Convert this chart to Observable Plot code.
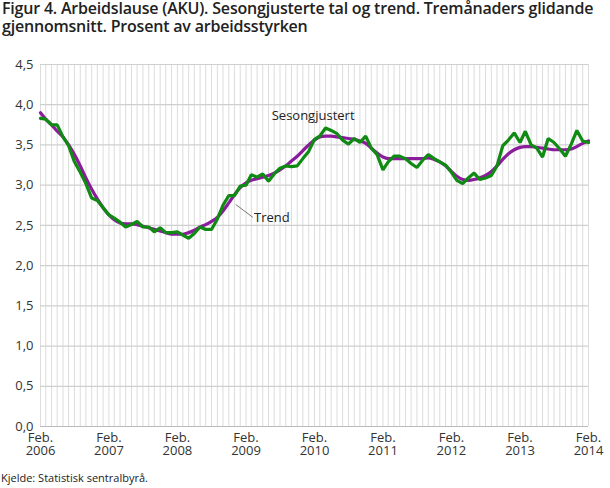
<!DOCTYPE html>
<html>
<head>
<meta charset="utf-8">
<script src="https://cdn.jsdelivr.net/npm/d3@7"></script>
<script src="https://cdn.jsdelivr.net/npm/@observablehq/plot@0.6"></script>
<style>
  body { margin: 0; background: #fff; font-family: "Open Sans", sans-serif; }
  #title { height: 48px; box-sizing: border-box; padding: 0 0 0 2px; font-size: 16px; line-height: 17.5px; font-weight: 600; color: #222; letter-spacing: -0.2px; }
  #caption { font-size: 11px; color: #222; padding-left: 1px; margin-top: 2px; }
</style>
</head>
<body>
<div id="title">Figur 4. Arbeidslause (AKU). Sesongjusterte tal og trend. Tremånaders glidande gjennomsnitt. Prosent av arbeidsstyrken</div>
<div id="chart"></div>
<div id="caption">Kjelde: Statistisk sentralbyrå.</div>
<script>
// Monthly series, Feb 2006 – Feb 2014
const startYear = 2006, startMonth = 1; // February
const sesongjustert = [
  3.83, 3.82, 3.75, 3.75, 3.60, 3.49, 3.29, 3.16, 3.02, 2.84, 2.81, 2.72,
  2.63, 2.59, 2.54, 2.48, 2.51, 2.55, 2.48, 2.48, 2.42, 2.47, 2.41, 2.41,
  2.42, 2.38, 2.34, 2.40, 2.48, 2.45, 2.45, 2.58, 2.75, 2.87, 2.87, 2.99,
  3.00, 3.13, 3.10, 3.14, 3.05, 3.14, 3.21, 3.24, 3.23, 3.24, 3.33, 3.42,
  3.57, 3.61, 3.71, 3.68, 3.64, 3.56, 3.51, 3.58, 3.53, 3.61, 3.46, 3.38,
  3.19, 3.29, 3.36, 3.36, 3.33, 3.27, 3.22, 3.31, 3.38, 3.33, 3.29, 3.25,
  3.16, 3.06, 3.02, 3.09, 3.15, 3.07, 3.09, 3.12, 3.24, 3.49, 3.56, 3.65,
  3.53, 3.67, 3.50, 3.46, 3.35, 3.58, 3.53, 3.45, 3.36, 3.51, 3.68, 3.55,
  3.53
];
const trend = [
  3.90, 3.82, 3.75, 3.67, 3.60, 3.50, 3.38, 3.24, 3.09, 2.95, 2.83, 2.72,
  2.63, 2.57, 2.53, 2.52, 2.52, 2.51, 2.49, 2.47, 2.45, 2.43, 2.41, 2.39,
  2.39, 2.39, 2.41, 2.44, 2.48, 2.51, 2.55, 2.60, 2.68, 2.78, 2.88, 2.97,
  3.03, 3.06, 3.08, 3.10, 3.12, 3.15, 3.19, 3.24, 3.30, 3.36, 3.43, 3.50,
  3.56, 3.60, 3.61, 3.61, 3.60, 3.59, 3.58, 3.57, 3.55, 3.52, 3.46, 3.40,
  3.35, 3.33, 3.33, 3.33, 3.33, 3.33, 3.33, 3.33, 3.34, 3.32, 3.29, 3.24,
  3.17, 3.11, 3.07, 3.06, 3.07, 3.09, 3.12, 3.17, 3.24, 3.32, 3.39, 3.44,
  3.47, 3.48, 3.48, 3.47, 3.46, 3.45, 3.44, 3.44, 3.44, 3.45, 3.48, 3.52,
  3.55
];
const tickYears = [2006, 2007, 2008, 2009, 2010, 2011, 2012, 2013, 2014];
const yTicks = [0, 0.5, 1, 1.5, 2, 2.5, 3, 3.5, 4, 4.5];
const seriesLabels = ["Sesongjustert", "Trend"];

const monthDate = (i) => new Date(Date.UTC(startYear, startMonth + i, 1));
const months = sesongjustert.map((_, i) => monthDate(i));
const seasonal = sesongjustert.map((v, i) => ({date: months[i], value: v}));
const trendData = trend.map((v, i) => ({date: months[i], value: v}));
const xTicks = tickYears.map(y => new Date(Date.UTC(y, 1, 1)));

// annotation placement (fractional months from start)
const fracDate = (m) => new Date(monthDate(0).getTime() + m * 30.44 * 86400000);
const labelData = [
  {date: fracDate(40.5), value: 3.86, text: seriesLabels[0]},
  {date: fracDate(37.4), value: 2.59, text: seriesLabels[1]}
];
const leader = [{x1: fracDate(34.2), y1: 2.76, x2: fracDate(37.2), y2: 2.60}];

const green = "#0f8a12";
const purple = "#8b1c9c";

const chart = Plot.plot({
  width: 610,
  height: 420,
  marginLeft: 40,
  marginRight: 22,
  marginTop: 16,
  marginBottom: 42,
  style: {fontFamily: "Open Sans, sans-serif", fontSize: "13px", color: "#333", background: "#fff"},
  x: {type: "utc", domain: [months[0], months[months.length - 1]], ticks: xTicks, tickSize: 0, tickPadding: 6,
      tickFormat: d => "Feb.\n" + d.getUTCFullYear(), label: null},
  y: {domain: [0, 4.5], ticks: yTicks, tickSize: 0, tickPadding: 7,
      tickFormat: d => d.toFixed(1).replace(".", ","), label: null},
  marks: [
    Plot.ruleX(months, {stroke: "#dcdcdc", strokeWidth: 1}),
    Plot.ruleY(yTicks, {stroke: "#cfcfcf", strokeWidth: 1.2}),
    Plot.ruleY([0], {stroke: "#bbb", strokeWidth: 1.2}),
    Plot.line(trendData, {x: "date", y: "value", stroke: purple, strokeWidth: 3.2, curve: "monotone-x"}),
    Plot.line(seasonal, {x: "date", y: "value", stroke: green, strokeWidth: 3.2, strokeLinejoin: "miter"}),
    Plot.link(leader, {x1: "x1", y1: "y1", x2: "x2", y2: "y2", stroke: "#555", strokeWidth: 0.8}),
    Plot.text(labelData, {x: "date", y: "value", text: "text", textAnchor: "start", fontSize: 13, fill: "#222"})
  ]
});
document.getElementById("chart").appendChild(chart);
</script>
</body>
</html>
